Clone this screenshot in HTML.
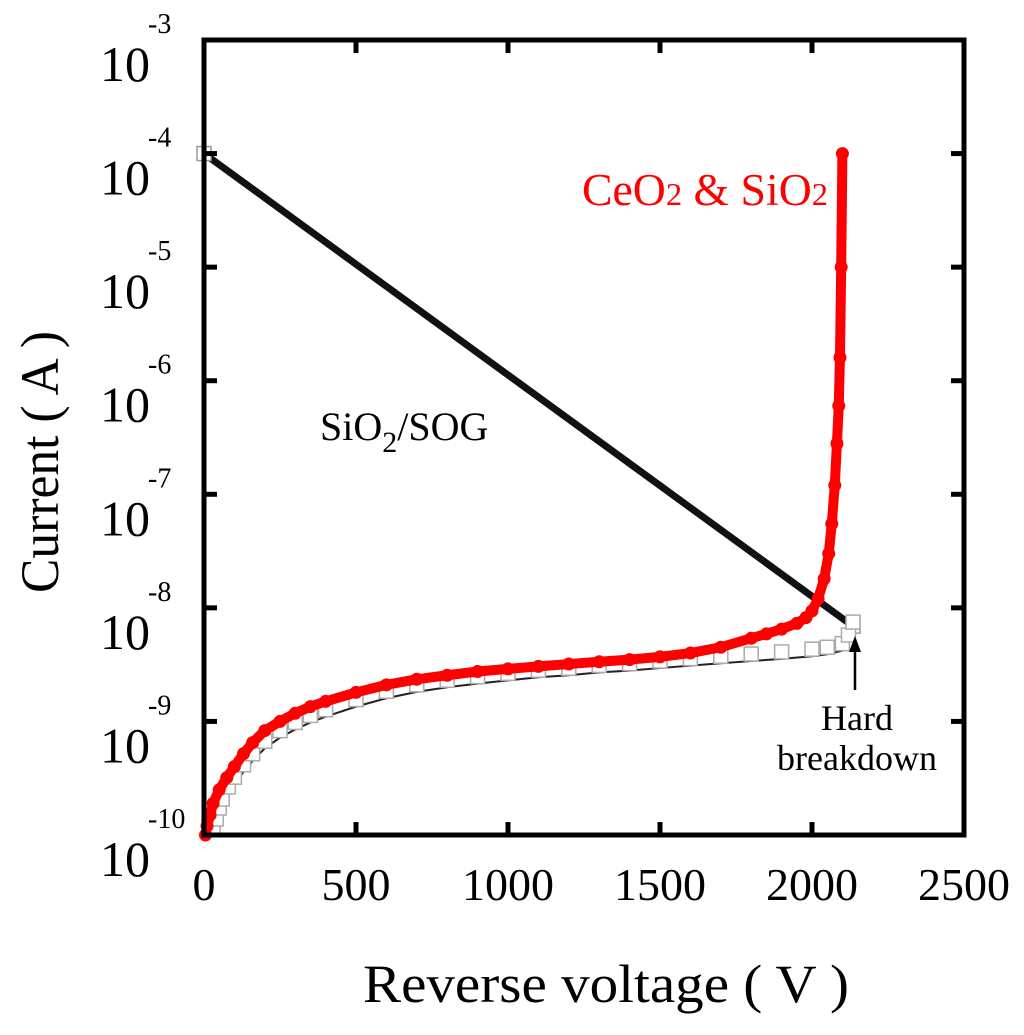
<!DOCTYPE html>
<html><head><meta charset="utf-8"><style>
html,body{margin:0;padding:0;background:#fff;}
svg{display:block;font-family:"Liberation Serif",serif;}
</style></head><body>
<svg id="chart" width="1024" height="1035" viewBox="0 0 1024 1035" xmlns="http://www.w3.org/2000/svg">
<g id="marks"></g>
<rect x="204" y="40" width="760" height="795" fill="none" stroke="#000" stroke-width="5"/>
<g id="axes"></g>
<text x="606" y="1002" font-size="54" text-anchor="middle" textLength="486" lengthAdjust="spacingAndGlyphs">Reverse voltage ( V )</text>
<text transform="translate(58,462) rotate(-90)" font-size="54" text-anchor="middle" textLength="262" lengthAdjust="spacingAndGlyphs">Current ( A )</text>
<text x="320" y="440" font-size="40">SiO<tspan font-size="30" dy="12">2</tspan><tspan dy="-12">/SOG</tspan></text>
<text x="582" y="205" font-size="45" fill="#ff0000" textLength="246" lengthAdjust="spacingAndGlyphs">CeO<tspan font-size="32">2</tspan> &amp; SiO<tspan font-size="32">2</tspan></text>
<line x1="855" y1="690" x2="855" y2="650" stroke="#000" stroke-width="2.5"/>
<polygon points="849,652 861,652 855,636" fill="#000"/>
<text x="857" y="730" font-size="36" text-anchor="middle">Hard</text>
<text x="857" y="770" font-size="36" text-anchor="middle">breakdown</text>
</svg>
<script>
const xTicks=[0,500,1000,1500,2000,2500];
const yExps=[-3,-4,-5,-6,-7,-8,-9,-10];
const sogLineV=[0,2135];
const sogLineI=[1e-4,6.9e-9];
const redV=[5,10,20,30,50,75,100,130,160,200,250,300,350,400,500,600,700,800,900,1000,1100,1200,1300,1400,1500,1600,1700,1800,1850,1900,1950,1980,2000,2020,2040,2055,2065,2075,2082,2088,2092,2096,2100];
const redI=[1.0e-10,1.2e-10,1.5e-10,1.9e-10,2.5e-10,3.2e-10,4.0e-10,5.2e-10,6.5e-10,8.3e-10,1.0e-9,1.18e-9,1.35e-9,1.5e-9,1.8e-9,2.1e-9,2.35e-9,2.55e-9,2.75e-9,2.9e-9,3.05e-9,3.2e-9,3.35e-9,3.5e-9,3.7e-9,4.0e-9,4.5e-9,5.4e-9,5.9e-9,6.5e-9,7.3e-9,8.2e-9,9.4e-9,1.2e-8,1.8e-8,3.0e-8,5.5e-8,1.2e-7,2.8e-7,6e-7,1.6e-6,1e-5,1e-4];
const sqV=[30,40,50,60,80,100,130,160,200,250,300,350,400,500,600,700,800,900,1000,1100,1200,1300,1400,1500,1600,1700,1800,1900,2000,2050,2100,2120,2135];
const sqI=[1.0e-10,1.2e-10,1.5e-10,1.8e-10,2.3e-10,2.8e-10,3.6e-10,4.5e-10,5.8e-10,7.2e-10,8.5e-10,9.8e-10,1.1e-9,1.35e-9,1.6e-9,1.82e-9,2.0e-9,2.15e-9,2.3e-9,2.45e-9,2.55e-9,2.7e-9,2.8e-9,2.95e-9,3.1e-9,3.25e-9,3.4e-9,3.55e-9,3.75e-9,3.9e-9,4.2e-9,5e-9,6.5e-9];
const NS="http://www.w3.org/2000/svg";
const X0=204,X1=964,Y0=40,DEC=113.57;
function xs(v){return X0+(v/2500)*(X1-X0);}
function ys(i){return Y0+(-3-Math.log10(i))*DEC;}
function mk(tag,attrs,parent){const e=document.createElementNS(NS,tag);for(const k in attrs)e.setAttribute(k,attrs[k]);parent.appendChild(e);return e;}
const axes=document.getElementById('axes');
const marks=document.getElementById('marks');
xTicks.forEach(v=>{
  const x=xs(v);
  if(v>0&&v<2500){
    const t=mk('line',{x1:x,y1:835,x2:x,y2:822,stroke:'#000','stroke-width':5},axes);
    
    
    const t2=mk('line',{x1:x,y1:40,x2:x,y2:53,stroke:'#000','stroke-width':5},axes);
    
    
  }
  const l=mk('text',{x:x,y:900,'font-size':46,'text-anchor':'middle'},axes);
  l.textContent=String(v);
  
  
});
yExps.forEach(e=>{
  const y=ys(Math.pow(10,e));
  if(e>-10&&e<-3){
    const t=mk('line',{x1:204,y1:y,x2:217,y2:y,stroke:'#000','stroke-width':5},axes);
    
    
    const t2=mk('line',{x1:964,y1:y,x2:951,y2:y,stroke:'#000','stroke-width':5},axes);
    
    
  }
  const l=mk('text',{x:100,y:y+41,'font-size':50},axes);
  l.textContent='10';
  
  
  const s=mk('text',{x:148,y:y-7,'font-size':28},axes);
  s.textContent=String(e);
  
  
});
const bl=mk('line',{x1:xs(sogLineV[0]),y1:ys(sogLineI[0]),x2:xs(sogLineV[1]),y2:ys(sogLineI[1]),stroke:'#111','stroke-width':7},marks);


sogLineV.forEach((v,i)=>{
  const r=mk('rect',{x:xs(v)-7,y:ys(sogLineI[i])-7,width:14,height:14,fill:'#fff',stroke:'#999','stroke-width':1.5},marks);
  
  
});
const sqPath=sqV.map((v,i)=>(i?'L':'M')+xs(v)+','+ys(sqI[i])).join(' ');
const sp=mk('path',{d:sqPath,fill:'none',stroke:'#222','stroke-width':2},marks);


sqV.forEach((v,i)=>{
  const r=mk('rect',{x:xs(v)-7,y:ys(sqI[i])-14,width:14,height:14,fill:'#fff',stroke:'#aaa','stroke-width':1.5},marks);
  
  
});
const rPath=redV.map((v,i)=>(i?'L':'M')+xs(v)+','+ys(redI[i])).join(' ');
const bp=mk('path',{d:rPath,fill:'none',stroke:'#5533ee','stroke-width':3,transform:'translate(2,2)'},marks);


const rp=mk('path',{d:rPath,fill:'none',stroke:'#ff0000','stroke-width':10,'stroke-linejoin':'round'},marks);


redV.forEach((v,i)=>{
  const c=mk('circle',{cx:xs(v),cy:ys(redI[i]),r:6.5,fill:'#ff0000'},marks);
  
  
});
</script>
</body></html>
